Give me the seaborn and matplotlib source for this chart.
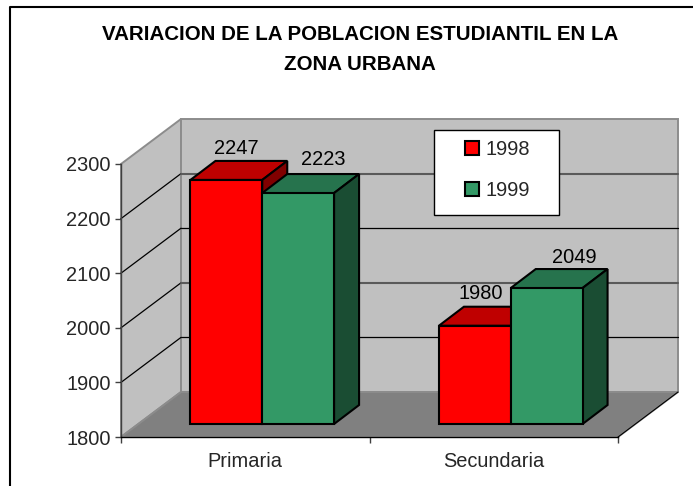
import matplotlib
matplotlib.use('Agg')
import matplotlib.pyplot as plt
from matplotlib.lines import Line2D
from matplotlib.patches import Polygon, Rectangle
from matplotlib.transforms import IdentityTransform
import seaborn as sns
import pandas as pd

categorias = ['Primaria', 'Secundaria']
valores_1998 = [2247, 1980]
valores_1999 = [2223, 2049]
anios = ['1998', '1999']
y_ticks = [1800, 1900, 2000, 2100, 2200, 2300]
titulo = 'VARIACION DE LA POBLACION ESTUDIANTIL EN LA\nZONA URBANA'

df = pd.DataFrame({
    'categoria': categorias * 2,
    'valor': valores_1998 + valores_1999,
    'anio': [anios[0]] * 2 + [anios[1]] * 2,
})

W, H = 693, 486
FS = 14.4
sns.set_theme(style='white')
plt.rcParams['font.family'] = ['Liberation Sans', 'DejaVu Sans']

fig = plt.figure(figsize=(W / 100, H / 100), dpi=100, facecolor='white')

# front plane of the fake 3d box, bars sit a bit further in
left, right, top, bottom = 121, 618, 164, 437
depth_x, depth_y = 60, 45
bar_dx, bar_dy = 17, 13
side_x, side_y = 25, 19


def axes_at(x0, x1, y0, y1):
    return fig.add_axes([x0 / W, 1 - y1 / H, (x1 - x0) / W, (y1 - y0) / H])


ax = axes_at(left, right, top, bottom)
ax.set_xlim(-0.5, 1.5)
ax.set_ylim(1800, 2300)
ax.patch.set_visible(False)
ax.set_yticks(y_ticks)
ax.set_xticks([0, 1])
ax.set_xticklabels(categorias)
ax.tick_params(axis='y', left=True, length=4.3, width=1, color='#404040', labelsize=FS, pad=3.2)
ax.tick_params(axis='x', bottom=True, length=0, labelsize=FS, pad=11)
for side in ['top', 'right']:
    ax.spines[side].set_visible(False)
for side in ['left', 'bottom']:
    ax.spines[side].set_color('#404040')
    ax.spines[side].set_linewidth(1)
ax.spines['left'].set_zorder(2)
ax.spines['bottom'].set_color('black')

# x tick marks sit between the categories, on the floor edge
ax.set_xticks([-0.5, 0.5, 1.5], minor=True)
ax.tick_params(axis='x', which='minor', bottom=True, length=4.3, width=1, color='#404040')

px = IdentityTransform()
# pixel coords from the top of the image -> display coords
def pt(x, y):
    return (x, H - y)


wall_gray = '#C0C0C0'
floor_gray = '#808080'
edge_gray = '#8C8C8C'
wall = [
    ([pt(left, top), pt(left + depth_x, top - depth_y), pt(left + depth_x, bottom - depth_y), pt(left, bottom)], wall_gray),
    ([pt(left + depth_x, top - depth_y), pt(right + depth_x, top - depth_y), pt(right + depth_x, bottom - depth_y), pt(left + depth_x, bottom - depth_y)], wall_gray),
    ([pt(left, bottom), pt(left + depth_x, bottom - depth_y), pt(right + depth_x, bottom - depth_y), pt(right, bottom)], floor_gray),
]
for verts, c in wall:
    ax.add_patch(Polygon(verts, closed=True, facecolor=c, edgecolor=edge_gray, lw=1.4,
                         transform=px, clip_on=False, zorder=0.5))

# right edge of the floor is a thin black line
x_line, y_line = zip(pt(right, bottom), pt(right + depth_x, bottom - depth_y))
ax.plot(x_line, y_line, color='black', lw=0.8, transform=px, clip_on=False, zorder=0.6)

# gridlines round the two walls
for v in y_ticks[1:-1]:
    _, yd = ax.transData.transform((0, v))
    ax.plot([left, left + depth_x], [yd, yd + depth_y], color='black', lw=0.9,
            transform=px, clip_on=False, zorder=0.6)
    thick = v in (2000, 2200)
    ax.plot([left + depth_x, right + depth_x], [yd + depth_y, yd + depth_y],
            color='#5A5A5A' if thick else 'black', lw=1.5 if thick else 0.9,
            transform=px, clip_on=False, zorder=0.6)

# bars on their own axes, shifted to the bar plane
ax2 = axes_at(left + bar_dx, right + bar_dx, top - bar_dy, bottom - bar_dy)
ax2.patch.set_visible(False)
sns.barplot(data=df, x='categoria', y='valor', hue='anio', hue_order=anios, order=categorias,
            palette=['#FF0000', '#339966'], width=0.578, saturation=1, gap=0,
            edgecolor='black', linewidth=1.5, ax=ax2)
ax2.set_xlim(-0.5, 1.5)
ax2.set_ylim(1800, 2300)
ax2.axis('off')

top_cols = {'1998': '#BF0000', '1999': '#26734D'}
side_cols = {'1998': '#800000', '1999': '#1A4D33'}
label_dx = [10, 6, 25, 28]
label_dy = [22, 23, 24, 21]
n = len(categorias)
bars = [p for p in ax2.patches if p.get_height() > 0][:2 * n]
for i, bar in enumerate(bars):
    anio = anios[i // n]
    h = bar.get_height()
    bar.set_y(1800)
    bar.set_height(h - 1800)
    bar.set_clip_on(False)
    bar.set_zorder(3 + i * 2 + 1)
    (x0, y0), (x1, y1) = ax2.transData.transform([(bar.get_x(), 1800), (bar.get_x() + bar.get_width(), h)])
    top_face = [(x0, y1), (x1, y1), (x1 + side_x, y1 + side_y), (x0 + side_x, y1 + side_y)]
    side_face = [(x1, y0), (x1 + side_x, y0 + side_y), (x1 + side_x, y1 + side_y), (x1, y1)]
    ax2.add_patch(Polygon(top_face, closed=True, facecolor=top_cols[anio], edgecolor='black', lw=1.5,
                          transform=px, clip_on=False, zorder=3 + i * 2))
    ax2.add_patch(Polygon(side_face, closed=True, facecolor=side_cols[anio], edgecolor='black', lw=1.5,
                          transform=px, clip_on=False, zorder=3 + i * 2))
    # value label floats above the top face
    ax2.annotate(str(int(h)), (bar.get_x() + bar.get_width() / 2, h), xytext=(label_dx[i], label_dy[i]),
                 textcoords='offset pixels', ha='center', va='bottom', fontsize=FS, color='black',
                 annotation_clip=False, zorder=20)

# legend box drawn by hand, excel pads it much wider than tall
ax2.add_patch(Rectangle(pt(434, 215), 125, 85, facecolor='white', edgecolor='black', lw=1,
                        transform=px, clip_on=False, zorder=29))
sns.move_legend(ax2, loc='upper left', bbox_to_anchor=pt(465, 140), bbox_transform=px,
                title=None, frameon=False, fontsize=FS, handlelength=0.72, handleheight=0.72,
                labelspacing=1.1, borderpad=0, handletextpad=0.3, borderaxespad=0)
ax2.get_legend().set_zorder(30)

lineas = titulo.split('\n')
fig.text(360 / W, 1 - 35 / H, lineas[0], ha='center', va='center', fontsize=14.75, fontweight='bold', color='black')
fig.text(360 / W, 1 - 64 / H, lineas[1], ha='center', va='center', fontsize=14.75, fontweight='bold', color='black')

# outer chart border: only top and left fall inside the crop
fig.add_artist(Line2D([10 / W, 10 / W, 1], [0, 1 - 7 / H, 1 - 7 / H], transform=fig.transFigure,
                      color='black', lw=1.5))

fig.savefig('out.png', dpi=100, facecolor='white')
